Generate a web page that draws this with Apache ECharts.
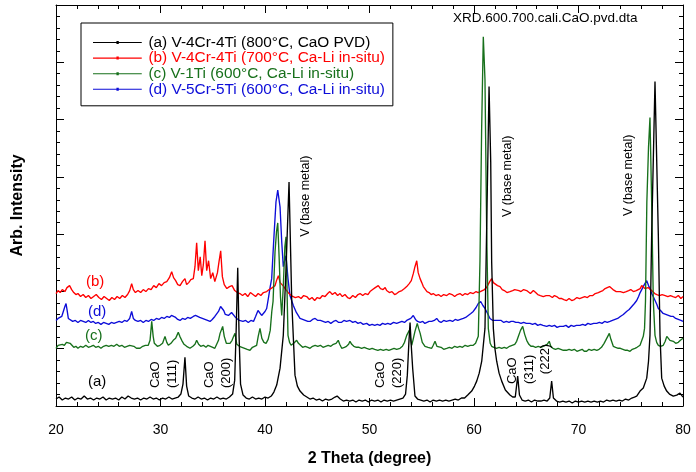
<!DOCTYPE html>
<html>
<head>
<meta charset="utf-8">
<script src="https://cdn.jsdelivr.net/npm/echarts@6/dist/echarts.min.js"></script>
<style>
html,body{margin:0;padding:0;background:#fff}
#chart{width:696px;height:472px}
</style>
</head>
<body>
<div id="chart"></div>
<script>
// XRD patterns, 2-theta (degree) vs. intensity (arbitrary units)
const seriesNames = [
  '(a) V-4Cr-4Ti (800°C, CaO PVD)',
  '(b) V-4Cr-4Ti (700°C, Ca-Li in-situ)',
  '(c) V-1Ti (600°C, Ca-Li in-situ)',
  '(d) V-5Cr-5Ti (600°C, Ca-Li in-situ)'
];
const seriesColors = ['#000000', '#ff0000', '#17701b', '#0c0cd8'];
const fileTag = 'XRD.600.700.cali.CaO.pvd.dta';
const xTitle = '2 Theta (degree)';
const yTitle = 'Arb. Intensity';

// (a) V-4Cr-4Ti, 800°C, CaO PVD
const patternA = [
[20,7],[20.3,9],[20.6,6],[20.9,8],[21.2,7],[21.5,9],[21.8,6],[22.1,8],[22.4,7],[22.7,10],[23,7],[23.3,8],[23.6,6],[23.9,8],[24.2,7],[24.5,9],[24.8,6],[25.1,8],[25.4,7],[25.7,8],[26,6],[26.3,9],[26.6,7],[26.9,10],[27.2,8],[27.5,7],[27.8,8],[28.1,6],[28.4,8],[28.7,7],[29,9],[29.3,7],[29.6,8],[29.9,6],[30.2,8],[30.5,7],[30.8,9],[31.1,7],[31.4,8],[31.7,9],[31.95,12],[32.15,22],[32.34,49],[32.5,20],[32.7,10],[33,8],[33.3,7],[33.6,9],[33.9,7],[34.2,8],[34.5,6],[34.8,8],[35.1,7],[35.4,9],[35.7,7],[36,8],[36.3,7],[36.6,9],[36.9,12],[37.1,26],[37.25,80],[37.39,139],[37.52,70],[37.66,22],[37.9,11],[38.2,8],[38.5,7],[38.8,9],[39.1,7],[39.4,8],[39.7,7],[40,9],[40.3,8],[40.6,10],[40.85,14],[41.12,21],[41.44,38],[41.75,71],[42.01,138],[42.3,225],[42.56,105],[42.87,31],[43.1,20],[43.35,15],[43.7,11],[44,9],[44.3,7],[44.6,8],[44.9,6],[45.2,7],[45.5,5],[45.8,7],[46.1,6],[46.4,7],[46.7,9],[46.9,10],[47.2,7],[47.5,5],[47.8,6],[48.1,5],[48.4,6],[48.7,4],[49,6],[49.3,5],[49.6,6],[49.9,4],[50.2,6],[50.5,5],[50.8,6],[51.1,4],[51.4,6],[51.7,5],[52,6],[52.3,5],[52.6,6],[52.9,7],[53.2,8],[53.45,12],[53.62,31],[53.76,62],[53.88,84],[54,60],[54.13,38],[54.35,10],[54.6,7],[54.9,6],[55.2,5],[55.5,6],[55.8,4],[56.1,6],[56.4,5],[56.7,6],[57,5],[57.3,6],[57.6,5],[57.9,6],[58.2,7],[58.5,6],[58.8,8],[59.1,8],[59.4,11],[59.78,15],[60.05,20],[60.26,25],[60.5,33],[60.74,45],[61.05,78],[61.21,178],[61.44,321],[61.6,245],[61.69,145],[61.85,78],[62,58],[62.17,45],[62.4,33],[62.65,25],[63,16],[63.44,11],[63.7,9],[63.95,9],[64.18,30],[64.35,11],[64.6,6],[64.9,5],[65.2,6],[65.5,4],[65.8,6],[66.1,5],[66.4,5],[66.7,6],[67,5],[67.25,8],[67.43,25],[67.6,8],[67.9,5],[68.2,4],[68.5,5],[68.8,4],[69.1,5],[69.4,3],[69.7,5],[70,4],[70.3,5],[70.6,4],[70.9,5],[71.2,4],[71.5,5],[71.8,4],[72.1,5],[72.4,4],[72.7,6],[73,5],[73.3,6],[73.6,5],[73.9,6],[74.2,5],[74.5,7],[74.8,6],[75.1,8],[75.35,9],[75.57,10],[75.89,15],[76.2,18],[76.53,28],[76.7,45],[76.84,71],[77,171],[77.32,326],[77.64,171],[77.8,71],[77.96,28],[78.2,20],[78.44,15],[78.7,12],[79.07,10],[79.4,11],[79.71,13],[80,9]
];

// (b) V-4Cr-4Ti, 700°C, Ca-Li in-situ
const patternB = [
[20,113],[20.2,116],[20.4,114],[20.6,117],[20.85,115],[21.05,119],[21.3,121],[21.5,117],[21.7,114],[21.9,112],[22.1,113],[22.35,110],[22.6,112],[22.85,109],[23.1,111],[23.35,108],[23.6,110],[23.85,112],[24.1,109],[24.35,107],[24.6,110],[24.85,108],[25.1,106],[25.35,109],[25.6,107],[25.85,110],[26.1,108],[26.35,111],[26.6,109],[26.85,112],[27.05,116],[27.24,123],[27.4,117],[27.6,114],[27.85,116],[28.1,114],[28.35,117],[28.6,115],[28.85,118],[29.1,117],[29.35,121],[29.6,119],[29.85,123],[30.1,121],[30.35,124],[30.6,125],[30.85,129],[31.07,135],[31.25,129],[31.45,126],[31.65,122],[31.87,121],[32.1,125],[32.34,128],[32.5,122],[32.7,124],[32.9,127],[33.14,128],[33.3,140],[33.46,164],[33.62,136],[33.8,150],[33.95,131],[34.1,142],[34.26,166],[34.42,136],[34.6,146],[34.8,128],[35,134],[35.2,125],[35.45,134],[35.6,145],[35.76,156],[35.92,130],[36.1,122],[36.35,118],[36.6,120],[36.85,121],[37.1,116],[37.35,114],[37.6,113],[37.85,111],[38.1,113],[38.35,110],[38.6,114],[38.85,112],[39.1,110],[39.35,113],[39.6,111],[39.85,114],[40.16,115],[40.4,117],[40.7,119],[40.96,121],[41.1,126],[41.28,131],[41.45,124],[41.6,126],[41.8,120],[42,117],[42.3,113],[42.5,111],[42.68,112],[42.9,109],[43.2,110],[43.45,108],[43.7,111],[43.99,110],[44.25,107],[44.5,109],[44.75,106],[45,109],[45.26,108],[45.5,111],[45.75,110],[46,113],[46.2,115],[46.45,112],[46.7,114],[46.95,111],[47.18,113],[47.4,110],[47.65,112],[47.9,109],[48.13,108],[48.4,111],[48.65,109],[48.9,112],[49.1,113],[49.35,111],[49.6,113],[49.85,112],[50.05,115],[50.3,117],[50.55,119],[50.84,121],[51.05,118],[51.3,117],[51.5,119],[51.64,116],[51.9,114],[52.15,115],[52.4,112],[52.6,113],[52.85,115],[53.1,116],[53.35,118],[53.56,120],[53.8,123],[54,126],[54.19,133],[54.35,140],[54.52,146],[54.66,134],[54.84,128],[55,124],[55.15,120],[55.31,118],[55.5,115],[55.7,114],[55.9,112],[56.1,113],[56.35,111],[56.6,112],[56.85,110],[57.1,112],[57.39,111],[57.65,113],[57.9,112],[58.15,110],[58.4,112],[58.66,113],[58.9,111],[59.15,113],[59.4,112],[59.65,114],[59.93,113],[60.2,115],[60.4,114],[60.57,115],[60.8,116],[61,117],[61.2,119],[61.35,122],[61.5,125],[61.69,128],[61.85,124],[62,122],[62.25,121],[62.49,120],[62.7,117],[62.9,116],[63.15,114],[63.44,115],[63.7,116],[63.9,117],[64.08,118],[64.3,116],[64.5,115],[64.75,117],[65.04,116],[65.2,114],[65.4,113],[65.68,116],[65.9,114],[66.1,112],[66.35,111],[66.63,110],[66.9,111],[67.2,111],[67.5,109],[67.7,111],[67.91,110],[68.15,108],[68.4,108],[68.6,107],[68.86,106],[69.1,108],[69.35,106],[69.6,107],[69.85,109],[70.1,108],[70.35,109],[70.6,110],[70.85,109],[71.1,111],[71.37,111],[71.6,113],[71.9,114],[72.1,115],[72.33,116],[72.55,118],[72.75,119],[72.97,120],[73.15,118],[73.3,117],[73.45,115],[73.61,115],[73.8,116],[74,115],[74.3,114],[74.57,115],[74.8,116],[75,117],[75.25,115],[75.53,116],[75.7,117],[75.9,118],[76.05,121],[76.17,120],[76.35,118],[76.5,117],[76.65,119],[76.81,118],[77,116],[77.15,117],[77.3,113],[77.5,112],[77.76,111],[78,112],[78.3,111],[78.55,110],[78.8,111],[79.04,110],[79.3,109],[79.55,111],[79.8,108],[80,110]
];

// (c) V-1Ti, 600°C, Ca-Li in-situ
const patternC = [
[20,58],[20.2,61],[20.38,60],[20.6,62],[20.8,61],[21,64],[21.18,66],[21.35,63],[21.5,61],[21.7,59],[21.9,60],[22.1,58],[22.35,60],[22.6,59],[22.85,61],[23.1,59],[23.35,60],[23.57,61],[23.8,59],[24.05,60],[24.3,58],[24.55,60],[24.8,61],[25.05,60],[25.3,61],[25.55,60],[25.81,62],[26.05,60],[26.3,61],[26.55,59],[26.8,60],[27.05,61],[27.24,63],[27.45,60],[27.7,58],[28.04,58],[28.3,60],[28.55,61],[28.83,61],[29,66],[29.16,85],[29.3,70],[29.41,63],[29.7,60],[29.95,61],[30.2,63],[30.43,70],[30.6,64],[30.75,61],[31,63],[31.22,66],[31.45,68],[31.7,74],[31.85,70],[32.03,66],[32.25,62],[32.5,60],[32.82,58],[33.1,60],[33.3,62],[33.46,66],[33.65,62],[33.85,60],[34.1,61],[34.35,59],[34.55,61],[34.74,60],[35,59],[35.2,58],[35.38,58],[35.55,66],[35.7,73],[35.95,80],[36.1,70],[36.3,63],[36.45,61],[36.65,63],[36.85,66],[37,70],[37.13,73],[37.3,62],[37.55,60],[37.8,59],[38.05,58],[38.3,57],[38.56,56],[38.8,59],[39,60],[39.2,61],[39.35,70],[39.52,78],[39.7,68],[39.9,64],[40.1,63],[40.3,67],[40.5,76],[40.65,95],[40.77,105],[40.96,155],[41.1,175],[41.22,184],[41.35,150],[41.48,110],[41.6,91],[41.75,120],[41.9,160],[42.01,170],[42.1,120],[42.2,71],[42.35,64],[42.5,61],[42.75,63],[43.03,66],[43.2,63],[43.35,61],[43.6,59],[43.85,60],[44.1,59],[44.31,58],[44.55,60],[44.8,61],[45.05,60],[45.3,61],[45.55,59],[45.8,60],[46.05,61],[46.3,60],[46.54,62],[46.8,63],[47.01,66],[47.15,62],[47.34,58],[47.6,59],[47.8,60],[48,62],[48.13,65],[48.3,62],[48.5,60],[48.75,59],[49,59],[49.25,58],[49.5,59],[49.73,58],[50,57],[50.25,58],[50.5,57],[50.8,56],[51.05,57],[51.32,56],[51.6,57],[51.85,56],[52.1,57],[52.35,58],[52.6,57],[52.92,58],[53.15,60],[53.35,64],[53.56,71],[53.81,76],[53.95,66],[54.04,61],[54.2,68],[54.35,75],[54.57,83],[54.7,78],[54.85,73],[55.05,64],[55.31,60],[55.6,59],[55.95,58],[56.1,61],[56.27,65],[56.45,60],[56.6,58],[56.85,59],[57.1,57],[57.39,58],[57.65,59],[57.9,58],[58.15,60],[58.4,59],[58.65,60],[58.9,59],[59.15,61],[59.4,60],[59.65,61],[59.93,61],[60.15,63],[60.41,70],[60.57,145],[60.73,278],[60.89,371],[61.05,328],[61.21,178],[61.37,78],[61.55,63],[61.69,60],[61.9,59],[62.15,58],[62.4,59],[62.65,58],[62.9,59],[63.13,58],[63.4,60],[63.65,61],[63.9,62],[64.08,65],[64.25,70],[64.45,76],[64.66,80],[64.85,72],[65.04,66],[65.25,62],[65.45,60],[65.68,60],[65.9,59],[66.15,60],[66.4,59],[66.6,60],[66.79,61],[67,62],[67.2,65],[67.35,60],[67.55,58],[67.8,57],[68.05,58],[68.3,57],[68.55,56],[68.85,56],[69.1,57],[69.35,56],[69.6,57],[69.85,55],[70.1,56],[70.35,57],[70.55,55],[70.78,55],[71,57],[71.25,56],[71.5,57],[71.75,56],[71.97,57],[72.2,59],[72.45,63],[72.7,68],[72.95,73],[73.1,67],[73.33,60],[73.55,59],[73.8,58],[74,58],[74.25,57],[74.5,56],[74.7,56],[74.93,55],[75.15,57],[75.4,58],[75.6,59],[75.89,61],[76.05,63],[76.2,70],[76.32,78],[76.41,105],[76.54,205],[76.7,260],[76.84,290],[77,205],[77.16,105],[77.32,71],[77.48,64],[77.64,61],[77.85,60],[78.11,61],[78.3,65],[78.45,70],[78.59,71],[78.75,66],[78.9,64],[79.07,65],[79.3,63],[79.55,64],[79.75,66],[80,68]
];

// (d) V-5Cr-5Ti, 600°C, Ca-Li in-situ
const patternD = [
[20,86],[20.2,88],[20.38,86],[20.55,90],[20.7,95],[20.85,100],[20.96,103],[21.08,95],[21.18,88],[21.34,86],[21.6,85],[21.85,86],[22.1,84],[22.35,86],[22.6,85],[22.85,84],[23.1,86],[23.35,84],[23.57,85],[23.8,83],[24.05,84],[24.3,82],[24.55,84],[24.8,83],[25.05,82],[25.3,84],[25.55,83],[25.8,84],[26.05,85],[26.3,84],[26.55,86],[26.8,85],[27.05,88],[27.24,95],[27.4,88],[27.6,86],[27.85,85],[28.1,86],[28.35,84],[28.6,86],[28.85,85],[29.1,87],[29.35,86],[29.6,88],[29.85,87],[30.1,89],[30.35,88],[30.6,90],[30.85,89],[31.05,91],[31.23,93],[31.45,89],[31.65,87],[31.87,86],[32.1,88],[32.35,87],[32.6,89],[32.85,88],[33.14,90],[33.35,91],[33.5,92],[33.75,89],[34,88],[34.25,87],[34.5,86],[34.74,85],[34.95,87],[35.2,90],[35.38,91],[35.55,95],[35.75,100],[35.9,101],[36.05,96],[36.2,92],[36.33,90],[36.5,91],[36.65,93],[36.8,94],[36.95,96],[37.1,90],[37.3,88],[37.55,86],[37.89,85],[38.15,86],[38.4,84],[38.65,86],[38.9,85],[39.1,90],[39.33,96],[39.5,94],[39.68,91],[39.81,91],[40,95],[40.16,98],[40.35,110],[40.5,120],[40.64,128],[40.75,150],[40.86,171],[41.05,205],[41.22,217],[41.44,200],[41.6,165],[41.75,140],[41.88,146],[42.01,151],[42.2,128],[42.39,111],[42.55,106],[42.71,101],[43,94],[43.35,88],[43.6,87],[43.85,86],[44.1,85],[44.31,85],[44.55,87],[44.8,88],[45.05,86],[45.3,86],[45.55,85],[45.8,84],[46.05,85],[46.3,83],[46.55,85],[46.8,86],[47.05,84],[47.3,84],[47.55,86],[47.8,85],[48.13,86],[48.4,84],[48.65,85],[48.9,83],[49.15,84],[49.4,82],[49.73,83],[50,81],[50.25,82],[50.5,81],[50.75,82],[51,81],[51.25,83],[51.5,82],[51.75,83],[52,82],[52.3,84],[52.6,83],[52.85,84],[53.1,85],[53.35,84],[53.56,86],[53.75,87],[53.95,88],[54.19,91],[54.4,87],[54.6,85],[54.85,84],[55.1,85],[55.3,83],[55.47,83],[55.7,85],[55.95,85],[56.2,86],[56.43,88],[56.65,85],[56.85,84],[57.1,86],[57.35,85],[57.7,86],[57.95,85],[58.2,87],[58.45,86],[58.7,87],[58.98,88],[59.2,89],[59.45,91],[59.7,93],[59.93,95],[60.2,99],[60.41,103],[60.64,105],[60.85,101],[61.05,98],[61.3,93],[61.53,88],[61.8,86],[62,86],[62.17,85],[62.4,86],[62.6,86],[62.85,84],[63.1,85],[63.35,84],[63.55,85],[63.76,85],[64,84],[64.25,84],[64.5,83],[64.75,84],[65,83],[65.36,83],[65.6,82],[65.85,83],[66.1,81],[66.35,82],[66.6,81],[66.96,80],[67.2,81],[67.45,80],[67.7,81],[67.95,79],[68.2,80],[68.55,80],[68.8,81],[69.05,79],[69.3,81],[69.55,80],[69.8,81],[70.14,81],[70.4,82],[70.65,81],[70.9,83],[71.15,82],[71.45,83],[71.74,83],[72,84],[72.25,83],[72.5,85],[72.75,84],[73.01,85],[73.25,86],[73.5,87],[73.75,88],[74,90],[74.29,92],[74.6,95],[74.85,97],[75.1,100],[75.35,103],[75.57,106],[75.75,110],[75.9,114],[76.05,117],[76.2,120],[76.35,123],[76.53,126],[76.7,121],[76.84,118],[77,113],[77.15,110],[77.32,108],[77.5,102],[77.64,98],[77.85,96],[78.1,93],[78.35,92],[78.6,91],[78.85,90],[79.07,90],[79.3,88],[79.55,87],[79.8,86],[80,85]
];

// Peak and trace annotations, anchored in data coordinates [2-theta, intensity]
const noteTexts  = ['(a)', '(b)', '(d)', '(c)', 'CaO\n(111)', 'CaO\n(200)', 'CaO\n(220)', 'CaO\n(311)', '(222)', 'V (base metal)', 'V (base metal)', 'V (base metal)'];
const noteAnchors = [[23.06,24],[22.87,125],[23.06,95],[22.78,70],[28.66,18],[33.88,18],[50.24,18],[62.82,22],[65.98,32],[43.11,170],[62.39,190],[74.02,191]];
const noteColorIdx = [0, 1, 3, 2, 0, 0, 0, 0, 0, 0, 0, 0];
const noteVertical = [false, false, false, false, true, true, true, true, true, true, true, true];

const FONT = '"Liberation Sans", Arial, Helvetica, sans-serif';
const patterns = [patternA, patternB, patternC, patternD];
const drawOrder = [3, 1, 2, 0];

const tickStyle = {
  axisLine: { show: true, onZero: false, lineStyle: { color: '#000', width: 1 } },
  axisTick: { show: true, inside: true, length: 8, lineStyle: { color: '#000', width: 1 } },
  minorTick: { show: true, splitNumber: 5, length: 4, lineStyle: { color: '#000', width: 1 } },
  splitLine: { show: false },
  minorSplitLine: { show: false }
};

const chart = echarts.init(document.getElementById('chart'), null, { renderer: 'canvas' });

const option = {
  animation: false,
  backgroundColor: '#ffffff',
  textStyle: { fontFamily: FONT },
  title: {
    text: fileTag, left: 453, top: 11, padding: 0,
    textStyle: { fontSize: 13.5, fontWeight: 'normal', color: '#000', fontFamily: FONT }
  },
  grid: { left: 56, right: 13, top: 5, bottom: 64, containLabel: false },
  legend: {
    orient: 'vertical', left: 81, top: 23, padding: [12, 8, 9, 12], itemGap: 0.6,
    itemWidth: 52, itemHeight: 3,
    icon: 'path://M0,1H52V2.2H0Z M25,0H27.5V3.2H25Z',
    borderColor: '#000', borderWidth: 1, selectedMode: false,
    textStyle: { fontSize: 15.4, fontFamily: FONT },
    data: seriesNames.map((n, i) => ({ name: n, textStyle: { color: seriesColors[i] } }))
  },
  xAxis: [
    Object.assign({
      type: 'value', min: 20, max: 80, interval: 10, position: 'bottom',
      axisLabel: { fontSize: 14, color: '#000', margin: 17, fontFamily: FONT },
      name: xTitle, nameLocation: 'middle', nameGap: 45,
      nameTextStyle: { fontSize: 16, fontWeight: 'bold', color: '#000', fontFamily: FONT }
    }, tickStyle),
    Object.assign({
      type: 'value', min: 20, max: 80, interval: 10, position: 'top',
      axisLabel: { show: false }
    }, tickStyle)
  ],
  yAxis: [
    Object.assign({
      type: 'value', min: 0, max: 403, interval: 403 / 7, position: 'left',
      axisLabel: { show: false },
      name: yTitle, nameLocation: 'middle', nameGap: 30,
      nameTextStyle: { fontSize: 16, fontWeight: 'bold', color: '#000', fontFamily: FONT }
    }, tickStyle),
    Object.assign({
      type: 'value', min: 0, max: 403, interval: 403 / 7, position: 'right',
      axisLabel: { show: false }
    }, tickStyle)
  ],
  series: drawOrder.map(i => ({
    name: seriesNames[i],
    type: 'line',
    xAxisIndex: 0, yAxisIndex: 0,
    data: patterns[i],
    color: seriesColors[i],
    showSymbol: false,
    symbol: 'none',
    lineStyle: { color: seriesColors[i], width: 1.35 },
    emphasis: { disabled: true },
    z: 2
  }))
};

chart.setOption(option);

// annotations placed through the grid's coordinate system
const graphics = noteTexts.map((t, k) => {
  const p = chart.convertToPixel({ xAxisIndex: 0, yAxisIndex: 0 }, noteAnchors[k]);
  const vertical = noteVertical[k];
  return {
    type: 'text',
    x: p[0], y: p[1],
    rotation: vertical ? Math.PI / 2 : 0,
    silent: true,
    z: 10,
    style: {
      text: t,
      fill: seriesColors[noteColorIdx[k]],
      fontSize: vertical ? (t.indexOf('V') === 0 ? 12.5 : 13) : 15,
      fontFamily: FONT,
      lineHeight: 17,
      align: 'left',
      verticalAlign: vertical ? 'top' : 'middle'
    }
  };
});
chart.setOption({ graphic: graphics });
</script>
</body>
</html>
